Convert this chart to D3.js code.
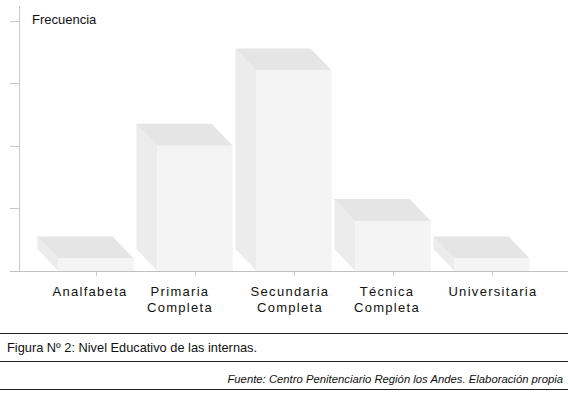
<!DOCTYPE html>
<html lang="es">
<head>
  <meta charset="UTF-8">
  <title>Nivel Educativo</title>
  <script src="https://d3js.org/d3.v7.min.js"></script>
  <style>
    body { margin: 0; background: #fff; }
    text { font-family: "Liberation Sans", Arial, sans-serif; }
  </style>
</head>
<body>
  <div id="root"></div>
  <script>
    // datos
    const categories = ['Analfabeta', 'Primaria Completa', 'Secundaria Completa', 'Técnica Completa', 'Universitaria']
    const labelLines = [['Analfabeta'], ['Primaria', 'Completa'], ['Secundaria', 'Completa'], ['Técnica', 'Completa'], ['Universitaria']]
    const values = [1, 10, 16, 4, 1]
    const yTicks = [0, 5, 10, 15, 20]
    const yTitle = 'Frecuencia'
    const caption = 'Figura Nº 2: Nivel Educativo de las internas.'
    const source = 'Fuente: Centro Penitenciario Región los Andes. Elaboración propia'

    const width = 572
    const height = 393
    const axisX = 19.5
    const axisY = 271
    const depth = { dx: -21, dy: -22 }
    const labelShift = [-6, -15, -4, -6, 1]

    const svg = d3.select('#root')
      .append('svg')
        .attr('width', width)
        .attr('height', height)

    const xScale = d3.scaleBand()
      .domain(categories)
      .range([46.5, 541.5])
      .paddingInner(0.24)
      .paddingOuter(0.12)

    const yScale = d3.scaleLinear()
      .domain([0, 20])
      .range([axisY, 20.5])

    // barras 3D
    const bars = svg.append('g')
      .selectAll('g')
      .data(categories.map((c, i) => ({ cat: c, value: values[i] })))
      .join('g')

    const fx0 = d => xScale(d.cat)
    const fx1 = d => xScale(d.cat) + xScale.bandwidth()
    const fy = d => yScale(d.value)

    // lado izquierdo
    bars.append('path')
      .attr('fill', '#ececec')
      .attr('d', d => `M${fx0(d)},${fy(d)}L${fx0(d)},${axisY}L${fx0(d) + depth.dx},${axisY + depth.dy}L${fx0(d) + depth.dx},${fy(d) + depth.dy}Z`)

    // cara superior
    bars.append('path')
      .attr('fill', '#e5e5e5')
      .attr('d', d => `M${fx0(d)},${fy(d)}L${fx1(d)},${fy(d)}L${fx1(d) + depth.dx},${fy(d) + depth.dy}L${fx0(d) + depth.dx},${fy(d) + depth.dy}Z`)

    // cara frontal
    bars.append('rect')
      .attr('fill', '#f4f4f4')
      .attr('x', fx0)
      .attr('y', fy)
      .attr('width', xScale.bandwidth())
      .attr('height', d => axisY - fy(d))

    // eje y
    svg.append('line')
      .attr('x1', axisX).attr('x2', axisX)
      .attr('y1', 6).attr('y2', axisY)
      .attr('stroke', '#c8c8c8')

    svg.append('g')
      .selectAll('line')
      .data(yTicks)
      .join('line')
      .attr('x1', 10).attr('x2', axisX)
      .attr('y1', d => Math.round(yScale(d)) + 0.5)
      .attr('y2', d => Math.round(yScale(d)) + 0.5)
      .attr('stroke', '#c8c8c8')

    // eje x
    svg.append('line')
      .attr('x1', 10).attr('x2', 568)
      .attr('y1', axisY + 0.5).attr('y2', axisY + 0.5)
      .attr('stroke', '#c0c0c0')

    svg.append('g')
      .selectAll('line')
      .data(categories)
      .join('line')
      .attr('x1', d => Math.round(xScale(d) + xScale.bandwidth() / 2) + 0.5)
      .attr('x2', d => Math.round(xScale(d) + xScale.bandwidth() / 2) + 0.5)
      .attr('y1', axisY).attr('y2', axisY + 5)
      .attr('stroke', '#c8c8c8')

    svg.append('g')
      .selectAll('text')
      .data(categories)
      .join('text')
      .attr('text-anchor', 'middle')
      .attr('font-size', 13)
      .attr('fill', '#111')
      .style('letter-spacing', '1.3px')
      .each(function (d, i) {
        const cx = xScale(d) + xScale.bandwidth() / 2 + labelShift[i]
        d3.select(this).selectAll('tspan')
          .data(labelLines[i])
          .join('tspan')
          .attr('x', cx)
          .attr('y', (t, j) => 296 + j * 15.5)
          .text(t => t)
      })

    svg.append('text')
      .attr('x', 32)
      .attr('y', 24)
      .attr('font-size', 13)
      .attr('fill', '#111')
      .text(yTitle)

    // pie de figura
    const rules = [333.5, 361.5, 389.5]
    svg.append('g')
      .selectAll('line')
      .data(rules)
      .join('line')
      .attr('x1', 0).attr('x2', 568)
      .attr('y1', d => d).attr('y2', d => d)
      .attr('stroke', '#222')

    svg.append('text')
      .attr('x', 7)
      .attr('y', 352)
      .attr('font-size', 12.8)
      .attr('fill', '#111')
      .text(caption)

    svg.append('text')
      .attr('x', 563)
      .attr('y', 383)
      .attr('text-anchor', 'end')
      .attr('font-size', 11.3)
      .attr('font-style', 'italic')
      .attr('fill', '#111')
      .text(source)
  </script>
</body>
</html>
